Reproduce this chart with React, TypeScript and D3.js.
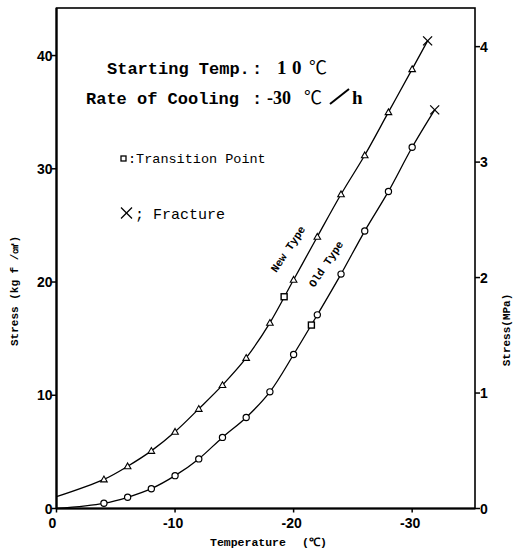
import React from "react";
import * as d3 from "d3";

// Temperatures (°C) at which markers are drawn
const temps = [-4, -6, -8, -10, -12, -14, -16, -18, -20, -22, -24, -26, -28, -30];
// New Type stress (kgf/cm²)
const newStress = [2.57, 3.73, 5.09, 6.78, 8.8, 10.9, 13.3, 16.4, 20.2, 24.0, 27.75, 31.2, 35.0, 38.8];
const newStart = 1.04;
const newTransition = [-19.2, 18.7];
const newFracture = [-31.3, 41.3];
// Old Type stress (kgf/cm²)
const oldStress = [0.46, 0.99, 1.75, 2.9, 4.38, 6.28, 8.04, 10.3, 13.6, 17.1, 20.7, 24.5, 28.0, 31.9];
const oldStart = 0;
const oldTransition = [-21.5, 16.2];
const oldFracture = [-31.9, 35.2];

const xTicks = [0, -10, -20, -30];
const xTickLabels = ["0", "-10", "-20", "-30"];
const yTicks = [0, 10, 20, 30, 40];
const mpaTicks = [0, 1, 2, 3, 4];

const KGF_PER_MPA = 10.197;

export default function App() {
  const W = 516, H = 552;
  const left = 56.5, right = 475, top = 8, bottom = 508.5;
  const x = d3.scaleLinear().domain([0, -35.3]).range([left, right]);
  const y = d3.scaleLinear().domain([0, 44.2]).range([bottom, top]);
  const yM = d3.scaleLinear().domain([0, 44.2 / KGF_PER_MPA]).range([bottom, top]);

  const line = d3
    .line<[number, number]>()
    .x((d) => x(d[0]))
    .y((d) => y(d[1]))
    .curve(d3.curveCatmullRom.alpha(0.5));

  const newPts: [number, number][] = [
    [0, newStart],
    ...temps.map((t, i) => [t, newStress[i]] as [number, number]),
    [newFracture[0], newFracture[1]],
  ];
  const oldPts: [number, number][] = [
    [0, oldStart],
    ...temps.map((t, i) => [t, oldStress[i]] as [number, number]),
    [oldFracture[0], oldFracture[1]],
  ];

  const tri = (cx: number, cy: number, s = 3.3) =>
    `M${cx},${cy - s}L${cx + s},${cy + s * 0.75}L${cx - s},${cy + s * 0.75}Z`;

  const cross = (cx: number, cy: number, s = 4.5, key: string) => (
    <g key={key} stroke="#000" strokeWidth={1.3}>
      <line x1={cx - s} y1={cy - s} x2={cx + s} y2={cy + s} />
      <line x1={cx - s} y1={cy + s} x2={cx + s} y2={cy - s} />
    </g>
  );

  const tickFont = "'Liberation Sans', Arial, sans-serif";
  const mono = "'Liberation Mono', 'DejaVu Sans Mono', monospace";

  return (
    <svg width={W} height={H} style={{ position: "absolute", left: 0, top: 0, background: "#fff" }}>
      <rect x={0} y={0} width={W} height={H} fill="#fff" />
      {/* frame */}
      <rect x={left} y={top} width={right - left} height={bottom - top} fill="none" stroke="#000" strokeWidth={1.6} />
      <line x1={left} y1={top} x2={left} y2={bottom} stroke="#000" strokeWidth={2.2} />
      <line x1={left} y1={bottom} x2={right} y2={bottom} stroke="#000" strokeWidth={2.2} />

      {/* left ticks */}
      {yTicks.map((t) => (
        <g key={"yl" + t}>
          <line x1={left - 5} x2={left} y1={y(t)} y2={y(t)} stroke="#000" strokeWidth={1.5} />
          <text x={left - 4} y={y(t) + 5} textAnchor="end" fontFamily={tickFont} fontWeight="bold" fontSize={14}>
            {t}
          </text>
        </g>
      ))}
      {/* right ticks */}
      {mpaTicks.map((t) => (
        <g key={"yr" + t}>
          <line x1={right} x2={right + 5} y1={yM(t)} y2={yM(t)} stroke="#000" strokeWidth={1.5} />
          <text x={right + 5} y={yM(t) + 5} textAnchor="start" fontFamily={tickFont} fontWeight="bold" fontSize={14}>
            {t}
          </text>
        </g>
      ))}
      {/* bottom ticks */}
      {xTicks.map((t, i) => (
        <g key={"x" + t}>
          <line x1={x(t)} x2={x(t)} y1={bottom} y2={bottom + 4} stroke="#000" strokeWidth={1.5} />
          <text x={x(t) - (i === 0 ? 4 : 2)} y={bottom + 19} textAnchor="middle" fontFamily={tickFont} fontWeight="bold" fontSize={14}>
            {xTickLabels[i]}
          </text>
        </g>
      ))}

      {/* axis titles */}
      <text
        transform={`translate(18,291) rotate(-90)`}
        textAnchor="middle"
        fontFamily={mono}
        fontWeight="bold"
        fontSize={11}
      >
        Stress (kg f /㎠)
      </text>
      <text
        transform={`translate(510,330) rotate(-90)`}
        textAnchor="middle"
        fontFamily={mono}
        fontWeight="bold"
        fontSize={11}
      >
        Stress(MPa)
      </text>
      <text x={210} y={546} fontFamily={mono} fontWeight="bold" fontSize={11.5}>
        Temperature
      </text>
      <text x={302} y={546} fontFamily={mono} fontWeight="bold" fontSize={11.5}>
        (℃)
      </text>

      {/* annotations */}
      <text x={107} y={74} fontFamily={mono} fontWeight="bold" fontSize={17}>
        Starting Temp.
      </text>
      <text x={252} y={74} fontFamily={mono} fontWeight="bold" fontSize={17}>
        :
      </text>
      <text x={277} y={74} fontFamily="'Liberation Serif', serif" fontWeight="bold" fontSize={19}>
        1
      </text>
      <text x={292} y={74} fontFamily="'Liberation Serif', serif" fontWeight="bold" fontSize={19}>
        0
      </text>
      <text x={309} y={74} fontFamily="'Noto Sans CJK JP', sans-serif" fontSize={18}>
        ℃
      </text>
      <text x={86} y={104} fontFamily={mono} fontWeight="bold" fontSize={17}>
        Rate of Cooling
      </text>
      <text x={252} y={104} fontFamily={mono} fontWeight="bold" fontSize={17}>
        :
      </text>
      <text x={267} y={104} fontFamily="'Liberation Serif', serif" fontWeight="bold" fontSize={18}>
        -30
      </text>
      <text x={304} y={104} fontFamily="'Noto Sans CJK JP', sans-serif" fontSize={18}>
        ℃
      </text>
      <line x1={330} y1={104} x2={349} y2={89} stroke="#000" strokeWidth={2} />
      <text x={352} y={104} fontFamily="'Liberation Serif', serif" fontWeight="bold" fontSize={19}>
        h
      </text>

      <rect x={121} y={156} width={5} height={5} fill="none" stroke="#000" strokeWidth={1.3} />
      <text x={128} y={163} fontFamily={mono} fontSize={13.5}>
        :Transition Point
      </text>
      {cross(126.5, 213, 5.5, "legx")}
      <text x={135} y={219} fontFamily={mono} fontSize={15}>
        ; Fracture
      </text>

      {/* curve labels */}
      <text
        transform={`translate(291,251) rotate(-56)`}
        textAnchor="middle"
        fontFamily={mono}
        fontWeight="bold"
        fontSize={11}
      >
        New Type
      </text>
      <text
        transform={`translate(329,266) rotate(-56)`}
        textAnchor="middle"
        fontFamily={mono}
        fontWeight="bold"
        fontSize={11}
      >
        Old Type
      </text>

      {/* curves */}
      <path d={line(newPts) || ""} fill="none" stroke="#000" strokeWidth={1.3} />
      <path d={line(oldPts) || ""} fill="none" stroke="#000" strokeWidth={1.3} />

      {/* markers */}
      {temps.map((t, i) => (
        <path key={"nt" + t} d={tri(x(t), y(newStress[i]))} fill="#fff" stroke="#000" strokeWidth={1.1} />
      ))}
      {temps.map((t, i) => (
        <circle key={"oc" + t} cx={x(t)} cy={y(oldStress[i])} r={3.1} fill="#fff" stroke="#000" strokeWidth={1.2} />
      ))}
      <rect x={x(newTransition[0]) - 3} y={y(newTransition[1]) - 3} width={6} height={6} fill="#fff" stroke="#000" strokeWidth={1.4} />
      <rect x={x(oldTransition[0]) - 3} y={y(oldTransition[1]) - 3} width={6} height={6} fill="#fff" stroke="#000" strokeWidth={1.4} />
      {cross(x(newFracture[0]), y(newFracture[1]), 4.5, "nf")}
      {cross(x(oldFracture[0]), y(oldFracture[1]), 4.5, "of")}
    </svg>
  );
}
